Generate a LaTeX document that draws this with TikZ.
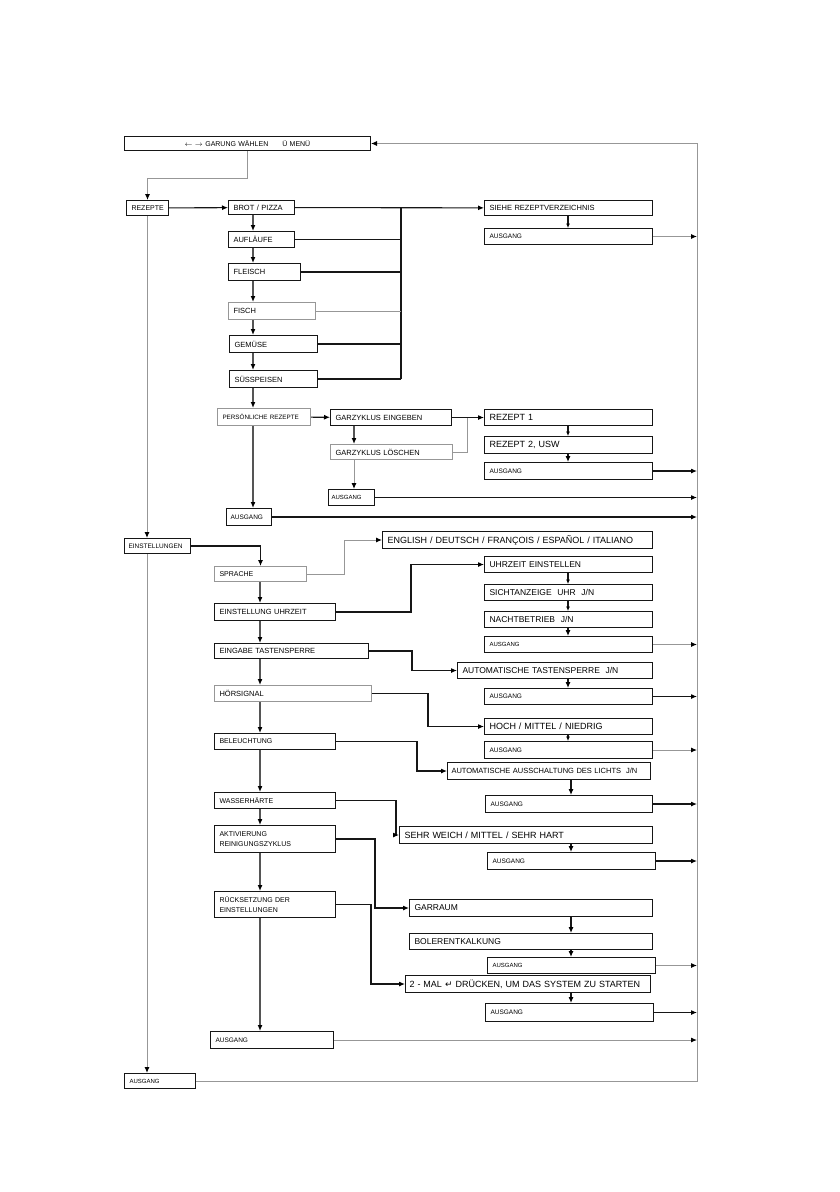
\documentclass[tikz,border=0pt]{standalone}
\usepackage{fontspec}
\usepackage{xcolor}
\usepackage{tikz}
\usetikzlibrary{arrows.meta,calc}
\newfontfamily\arialfont{Liberation Sans}
\newfontfamily\symbfont{DejaVu Sans}
\newcommand{\fsz}[1]{\arialfont\fontsize{#1}{9.5}\selectfont}
\definecolor{ink}{HTML}{161616}
\definecolor{midline}{HTML}{555555}
\definecolor{greyline}{HTML}{979797}
\tikzset{
  box/.style={draw=ink, line width=1pt, anchor=north west, inner xsep=5pt, inner ysep=0pt,
    minimum height=16pt, align=left, font=\fsz{7.5}},
  gbox/.style={box, draw=greyline},
  rbox/.style={box, text width=158pt},
  txs/.style={font=\fsz{6.5}},
  txm/.style={font=\fsz{7.5}},
  txl/.style={font=\fsz{8.5}},
  txx/.style={font=\fsz{9}},
  link/.style={draw=ink, line width=1.1pt},
  mlink/.style={draw=midline, line width=1.4pt},
  glink/.style={draw=greyline, line width=1pt},
  arr/.style={-{Latex[length=6pt,width=5pt,color=black]}},
  sarr/.style={-{Latex[length=4.5pt,width=4pt,color=black]}}
}
\begin{document}
\begin{tikzpicture}[x=1pt, y=-1pt]
  \useasboundingbox (0,0) rectangle (840,1192);

  % columns and bus lines
  \coordinate (lcol) at (147,0);
  \coordinate (rcol) at (253,0);
  \coordinate (scol) at (260,0);
  \coordinate (ecol) at (354,0);
  \coordinate (rj) at (401,0);
  \coordinate (acol) at (568,0);
  \coordinate (bcol) at (571,0);
  \coordinate (rbus) at (697,0);

  \node[box, font=\fsz{7}, align=center, text width=236pt, minimum height=14pt] (menu) at (124,136) {$\leftarrow$ $\rightarrow$ GARUNG WÄHLEN \quad\ \ Ü MENÜ};

  % Rezepte
  \node[box, font=\fsz{7}, text width=32pt, minimum height=15pt] (rezepte) at (126,200) {REZEPTE};
  \node[box, text width=56pt, minimum height=14pt] (brot) at (228,200) {BROT / PIZZA};
  \node[box, text width=56pt] (auflaeufe) at (228,231) {AUFLÄUFE};
  \node[box, text width=62pt, minimum height=17pt] (fleisch) at (228,263) {FLEISCH};
  \node[gbox, text width=77pt, minimum height=17pt] (fisch) at (228,302) {FISCH};
  \node[box, text width=78pt, minimum height=17pt] (gemuese) at (229,335) {GEMÜSE};
  \node[box, text width=78pt, minimum height=17pt] (suess) at (229,370) {SÜSSPEISEN};
  \node[rbox, minimum height=15pt] (siehe) at (484,200) {SIEHE REZEPTVERZEICHNIS};
  \node[rbox, txs] (aus1) at (484,228) {AUSGANG};

  \node[gbox, font=\fsz{6.3}, text width=83pt, minimum height=17pt] (persoenlich) at (217,408) {PERSÖNLICHE REZEPTE};
  \node[box, text width=111pt] (eingeben) at (330,409) {GARZYKLUS EINGEBEN};
  \node[gbox, text width=112pt, minimum height=15pt] (loeschen) at (330,444) {GARZYKLUS LÖSCHEN};
  \node[rbox, txx] (rez1) at (484,409) {REZEPT 1};
  \node[rbox, txx, minimum height=17pt] (rez2) at (484,436) {REZEPT 2, USW};
  \node[rbox, txs, minimum height=17pt] (aus2) at (484,462) {AUSGANG};
  \node[box, font=\fsz{6}, inner xsep=3pt, text width=40pt] (aus3) at (328,489) {AUSGANG};
  \node[box, txs, inner xsep=4pt, text width=37pt, minimum height=17pt] (aus4) at (226,508) {AUSGANG};

  \draw[link, arr] (rezepte) -- (brot);
  \draw[link, arr] (brot) -- (siehe);
  \draw[link] (brot.east -| rj) -- (suess.east -| rj);
  \foreach \n in {auflaeufe, fleisch, gemuese, suess}
    \draw[link] (\n.east) -- (\n.east -| rj);
  \draw[glink] (fisch.east) -- (fisch.east -| rj);
  \foreach \a/\b in {brot/auflaeufe, auflaeufe/fleisch, fleisch/fisch, fisch/gemuese, gemuese/suess, suess/persoenlich, persoenlich/aus4}
    \draw[mlink, arr] (\a.south -| rcol) -- (\b.north -| rcol);
  \draw[link, sarr] (siehe.south -| acol) -- (aus1.north -| acol);
  \draw[link, arr] (persoenlich) -- (eingeben);
  \draw[link, arr] (eingeben) -- (rez1);
  \draw[glink] (loeschen.east) -| ($(eingeben.east)+(15,0)$);
  \draw[mlink, arr] (eingeben.south -| ecol) -- (loeschen.north -| ecol);
  \draw[glink, arr] (loeschen.south -| ecol) -- (aus3.north -| ecol);
  \draw[link, sarr] (rez1.south -| acol) -- (rez2.north -| acol);
  \draw[link, arr] (rez2.south -| acol) -- (aus2.north -| acol);

  % Einstellungen
  \node[box, font=\fsz{6.5}, inner xsep=4pt, text width=58pt, minimum height=15pt] (einst) at (124,538) {EINSTELLUNGEN};
  \node[gbox, font=\fsz{7}, text width=82pt, minimum height=15pt] (sprache) at (214,566) {SPRACHE};
  \node[box, txx, text width=260pt, minimum height=17pt] (english) at (382,531) {ENGLISH / DEUTSCH / FRANÇOIS / ESPAÑOL / ITALIANO};
  \node[box, text width=111pt, minimum height=17pt] (uhrzeit) at (214,603) {EINSTELLUNG UHRZEIT};
  \node[rbox, txl] (ueinst) at (484,556) {UHRZEIT EINSTELLEN};
  \node[rbox, txl] (sicht) at (484,584) {SICHTANZEIGE\ \ UHR\ \ J/N};
  \node[rbox, txl] (nacht) at (484,611) {NACHTBETRIEB\ \ J/N};
  \node[rbox, font=\fsz{6}] (aus5) at (484,636) {AUSGANG};
  \node[box, text width=144pt, minimum height=15pt] (tasten) at (214,643) {EINGABE TASTENSPERRE};
  \node[box, txl, text width=185pt] (autotast) at (457,662) {AUTOMATISCHE TASTENSPERRE\ \ J/N};
  \node[rbox, txs] (aus6) at (484,688) {AUSGANG};
  \node[gbox, text width=147pt] (hoer) at (214,685) {HÖRSIGNAL};
  \node[rbox, txx] (hoch) at (484,718) {HOCH / MITTEL / NIEDRIG};
  \node[rbox, txs, minimum height=17pt] (aus7) at (484,741) {AUSGANG};
  \node[box, font=\fsz{7}, text width=111pt] (bel) at (214,733) {BELEUCHTUNG};
  \node[box, text width=195pt, inner xsep=4pt, minimum height=17pt] (licht) at (447,762) {AUTOMATISCHE AUSSCHALTUNG DES LICHTS\ \ J/N};
  \node[box, txs, text width=157pt, minimum height=17pt] (aus8) at (485,795) {AUSGANG};
  \node[box, font=\fsz{7}, text width=111pt] (wasser) at (214,792) {WASSERHÄRTE};
  \node[box, txx, text width=243pt, minimum height=17pt] (hart) at (399,826) {SEHR WEICH / MITTEL / SEHR HART};
  \node[rbox, txs, minimum height=17pt] (aus9) at (487,852) {AUSGANG};
  \node[box, font=\fsz{7}, text width=111pt, minimum height=27pt] (aktiv) at (214,825) {AKTIVIERUNG\\REINIGUNGSZYKLUS};
  \node[box, font=\fsz{7}, text width=111pt, minimum height=26pt] (rueck) at (214,891) {RÜCKSETZUNG DER\\EINSTELLUNGEN};
  \node[box, txl, text width=233pt, minimum height=17pt] (garraum) at (409,899) {GARRAUM};
  \node[box, txl, text width=233pt] (bolier) at (409,933) {BOLERENTKALKUNG};
  \node[rbox, font=\fsz{6}] (aus10) at (487,957) {AUSGANG};
  \node[box, txx, text width=237pt, inner xsep=4pt, minimum height=17pt] (start) at (405,975) {2 - MAL {\symbfont ↵} DRÜCKEN, UM DAS SYSTEM ZU STARTEN};
  \node[rbox, txs, minimum height=18pt] (aus11) at (485,1003) {AUSGANG};
  \node[box, txs, text width=113pt, minimum height=17pt] (aus12) at (210,1031) {AUSGANG};
  \node[box, font=\fsz{6}, text width=61pt, minimum height=15pt] (aus13) at (124,1073) {AUSGANG};

  \draw[link, arr] (einst.east) -| (sprache.north);
  \foreach \a/\b in {sprache/uhrzeit, uhrzeit/tasten, tasten/hoer, hoer/bel, bel/wasser, wasser/aktiv, aktiv/rueck, rueck/aus12}
    \draw[mlink, arr] (\a.south -| scol) -- (\b.north -| scol);
  \draw[glink, arr] (sprache.east) -- ++(37,0) |- (english.west);
  \draw[link, arr] (uhrzeit.east) -- ++(75,0) |- (ueinst.west);
  \draw[link, arr] (tasten.east) -- ++(43,0) |- (autotast.west);
  \draw[link, arr] (hoer.east) -- ++(56,0) |- (hoch.west);
  \draw[link, arr] (bel.east) -- ++(81,0) |- (licht.west);
  \draw[link, arr] (wasser.east) -- ++(60,0) |- (hart.west);
  \draw[link, arr] (aktiv.east) -- ++(39,0) |- (garraum.west);
  \draw[link, arr] (rueck.east) -- ++(35,0) |- (start.west);
  \foreach \a/\b in {ueinst/sicht, sicht/nacht, hoch/aus7}
    \draw[link, sarr] (\a.south -| acol) -- (\b.north -| acol);
  \foreach \a/\b in {nacht/aus5, autotast/aus6}
    \draw[link, arr] (\a.south -| acol) -- (\b.north -| acol);
  \foreach \a/\b in {licht/aus8, hart/aus9, garraum/bolier, bolier/aus10, start/aus11}
    \draw[link, arr] (\a.south -| bcol) -- (\b.north -| bcol);

  % back to the menu
  \draw[glink, arr] (menu.south) -- ++(0,27) -| (rezepte.north);
  \draw[glink, arr] (rezepte.south -| lcol) -- (einst.north -| lcol);
  \draw[glink, arr] (einst.south -| lcol) -- (aus13.north -| lcol);
  \foreach \n/\s in {aus1/glink, aus2/link, aus3/link, aus4/link, aus5/glink, aus6/link, aus7/glink, aus8/link, aus9/link, aus10/glink, aus11/link, aus12/glink}
    \draw[\s, arr] (\n.east) -- (\n.east -| rbus);
  \draw[glink, arr] (aus13.east) -| (menu.east -| rbus) -- (menu.east);
\end{tikzpicture}
\end{document}
